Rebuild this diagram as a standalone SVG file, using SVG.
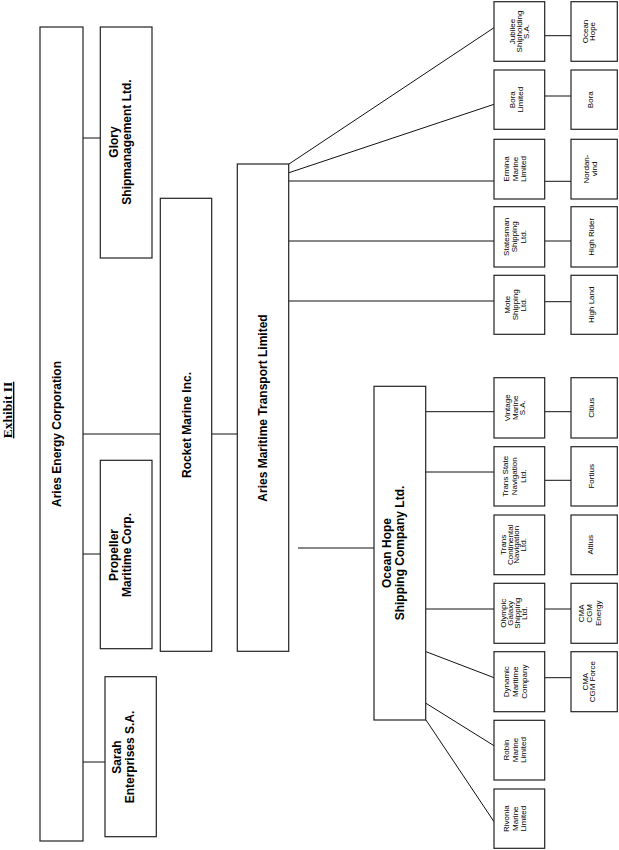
<svg xmlns="http://www.w3.org/2000/svg" width="619" height="850" viewBox="0 0 619 850">
<style>
.bx{fill:#fff;stroke:#222;stroke-width:1.2}
.ln{stroke:#111;stroke-width:1;fill:none}
.big{font-family:"Liberation Sans",Arial,sans-serif;font-weight:bold;font-size:12px;text-anchor:middle;fill:#000}
.sm{font-family:"Liberation Sans",Arial,sans-serif;font-size:8px;text-anchor:middle;fill:#000}
.ttl{font-family:"Liberation Serif","Times New Roman",serif;font-weight:bold;font-size:13.5px;text-anchor:middle;text-decoration:underline;fill:#000}
</style>
<rect width="619" height="850" fill="#fff"/>
<text class="ttl" transform="translate(7.5,410) rotate(-90)" y="4.5">Exhibit II</text>

<g id="connectors">
<path class="ln" d="M83,138H100 M83,434H160 M83,554H100 M83,762H105 M212,434H237"/>
<path class="ln" d="M289,164L494,27.7 M289,172.7L494,104.3 M289,181H494 M289,241H494 M289,301H494"/>
<path class="ln" d="M298,548H374"/>
<path class="ln" d="M426,411.7H494 M426,472H494 M426,609H494 M426,651.7L494,677.7 M426,703.3L494,745.7 M426,720L494,821.7"/>
<path class="ln" d="M545,35.7H571 M545,96H571 M545,181.3H571 M545,241H571 M545,301.7H571 M545,411.7H571 M545,480.3H571 M545,609H571 M545,677.7H571"/>
</g>

<g id="aries-energy"><rect class="bx" x="40" y="27" width="43" height="814"/>
<text class="big" transform="translate(57,434) rotate(-90)" y="4.2">Aries Energy Corporation</text></g>
<g id="glory"><rect class="bx" x="100.3" y="27" width="51.7" height="231"/>
<text class="big" transform="translate(124,142) rotate(-90)"><tspan x="0" y="-6.3">Glory</tspan><tspan x="0" y="6.7">Shipmanagement Ltd.</tspan></text></g>
<g id="propeller"><rect class="bx" x="100.3" y="460.3" width="51.7" height="188.4"/>
<text class="big" transform="translate(124,555) rotate(-90)"><tspan x="0" y="-6.3">Propeller</tspan><tspan x="0" y="6.7">Maritime Corp.</tspan></text></g>
<g id="sarah"><rect class="bx" x="105" y="676.7" width="51.3" height="160"/>
<text class="big" transform="translate(127,757) rotate(-90)"><tspan x="0" y="-6.3">Sarah</tspan><tspan x="0" y="6.7">Enterprises S.A.</tspan></text></g>
<g id="rocket"><rect class="bx" x="160.3" y="198.3" width="51.4" height="453"/>
<text class="big" transform="translate(186.5,425) rotate(-90)" y="4.2">Rocket Marine Inc.</text></g>
<g id="aries-maritime"><rect class="bx" x="237.3" y="164" width="51.4" height="487.3"/>
<text class="big" transform="translate(263,408) rotate(-90)" y="4.2">Aries Maritime Transport Limited</text></g>
<g id="ocean-hope-shipping"><rect class="bx" x="374" y="386.3" width="51.7" height="333.7"/>
<text class="big" transform="translate(397.5,553) rotate(-90)"><tspan x="0" y="-6.3">Ocean Hope</tspan><tspan x="0" y="6.7">Shipping Company Ltd.</tspan></text></g>

<g id="jubilee"><rect class="bx" x="494" y="1.7" width="50.7" height="59.6"/>
<text class="sm" transform="translate(519,31.5) rotate(-90)"><tspan x="0" y="-4.1">Jubilee</tspan><tspan x="0" y="2.9">Shipholding</tspan><tspan x="0" y="9.9">S.A.</tspan></text></g>
<g id="bora-limited"><rect class="bx" x="494" y="70" width="50.7" height="59.3"/>
<text class="sm" transform="translate(516,99.7) rotate(-90)"><tspan x="0" y="-1.1">Bora</tspan><tspan x="0" y="6.9">Limited</tspan></text></g>
<g id="ermina"><rect class="bx" x="494" y="139.3" width="50.7" height="59.7"/>
<text class="sm" transform="translate(515,169) rotate(-90)"><tspan x="0" y="-5.6">Ermina</tspan><tspan x="0" y="2.9">Marine</tspan><tspan x="0" y="11.4">Limited</tspan></text></g>
<g id="statesman"><rect class="bx" x="494" y="206.7" width="50.7" height="60.3"/>
<text class="sm" transform="translate(514.5,236.8) rotate(-90)"><tspan x="0" y="-5.8">Statesman</tspan><tspan x="0" y="2.9">Shipping</tspan><tspan x="0" y="11.6">Ltd.</tspan></text></g>
<g id="mote"><rect class="bx" x="494" y="275.3" width="50.7" height="59"/>
<text class="sm" transform="translate(515,304.8) rotate(-90)"><tspan x="0" y="-5.1">Mote</tspan><tspan x="0" y="2.9">Shipping</tspan><tspan x="0" y="10.9">Ltd.</tspan></text></g>
<g id="vintage"><rect class="bx" x="494" y="377.7" width="50.7" height="60.3"/>
<text class="sm" transform="translate(515,407.8) rotate(-90)"><tspan x="0" y="-4.6">Vintage</tspan><tspan x="0" y="2.9">Marine</tspan><tspan x="0" y="10.4">S.A.</tspan></text></g>
<g id="trans-state"><rect class="bx" x="494" y="446.7" width="50.7" height="59.3"/>
<text class="sm" transform="translate(514.5,476.3) rotate(-90)"><tspan x="0" y="-6.1">Trans State</tspan><tspan x="0" y="2.9">Navigation</tspan><tspan x="0" y="11.9">Ltd.</tspan></text></g>
<g id="trans-continental"><rect class="bx" x="494" y="515" width="50.7" height="59.7"/>
<text class="sm" transform="translate(513,544.8) rotate(-90)"><tspan x="0" y="-7.3">Trans</tspan><tspan x="0" y="-0.5">Continental</tspan><tspan x="0" y="6.3">Navigation</tspan><tspan x="0" y="13.1">Ltd.</tspan></text></g>
<g id="olympic"><rect class="bx" x="494" y="583.3" width="50.7" height="60"/>
<text class="sm" transform="translate(513.5,613.3) rotate(-90)"><tspan x="0" y="-7.6">Olympic</tspan><tspan x="0" y="-0.6">Galaxy</tspan><tspan x="0" y="6.4">Shipping</tspan><tspan x="0" y="13.4">Ltd.</tspan></text></g>
<g id="dynamic"><rect class="bx" x="494" y="651.7" width="50.7" height="60"/>
<text class="sm" transform="translate(515,681.7) rotate(-90)"><tspan x="0" y="-6.1">Dynamic</tspan><tspan x="0" y="2.9">Maritime</tspan><tspan x="0" y="11.9">Company</tspan></text></g>
<g id="robin"><rect class="bx" x="494" y="720.3" width="50.7" height="59.7"/>
<text class="sm" transform="translate(515,750) rotate(-90)"><tspan x="0" y="-5.6">Robin</tspan><tspan x="0" y="2.9">Marine</tspan><tspan x="0" y="11.4">Limited</tspan></text></g>
<g id="rivonia"><rect class="bx" x="494" y="789" width="50.7" height="59.3"/>
<text class="sm" transform="translate(515,818.7) rotate(-90)"><tspan x="0" y="-5.6">Rivonia</tspan><tspan x="0" y="2.9">Marine</tspan><tspan x="0" y="11.4">Limited</tspan></text></g>

<g id="v-ocean-hope"><rect class="bx" x="571" y="1.7" width="46.3" height="59.6"/>
<text class="sm" transform="translate(589,31.5) rotate(-90)"><tspan x="0" y="-0.6">Ocean</tspan><tspan x="0" y="6.4">Hope</tspan></text></g>
<g id="v-bora"><rect class="bx" x="571" y="70" width="46.3" height="59.3"/>
<text class="sm" transform="translate(590,99.7) rotate(-90)" y="2.9">Bora</text></g>
<g id="v-nordanvind"><rect class="bx" x="571" y="139.3" width="46.3" height="59.7"/>
<text class="sm" transform="translate(590,169) rotate(-90)"><tspan x="0" y="-0.9">Nordan-</tspan><tspan x="0" y="6.6">vind</tspan></text></g>
<g id="v-high-rider"><rect class="bx" x="571" y="206.7" width="46.3" height="60.3"/>
<text class="sm" transform="translate(591.5,236.8) rotate(-90)" y="2.9">High Rider</text></g>
<g id="v-high-land"><rect class="bx" x="571" y="275.3" width="46.3" height="59"/>
<text class="sm" transform="translate(591,304.8) rotate(-90)" y="2.9">High Land</text></g>
<g id="v-citius"><rect class="bx" x="571" y="377.7" width="46.3" height="60.3"/>
<text class="sm" transform="translate(591,407.8) rotate(-90)" y="2.9">Citius</text></g>
<g id="v-fortius"><rect class="bx" x="571" y="446.7" width="46.3" height="59.3"/>
<text class="sm" transform="translate(591,476.3) rotate(-90)" y="2.9">Fortius</text></g>
<g id="v-altius"><rect class="bx" x="571" y="515" width="46.3" height="59.7"/>
<text class="sm" transform="translate(590,544.8) rotate(-90)" y="2.9">Altius</text></g>
<g id="v-cma-energy"><rect class="bx" x="571" y="583.3" width="46.3" height="60"/>
<text class="sm" transform="translate(589.5,613.3) rotate(-90)"><tspan x="0" y="-5.6">CMA</tspan><tspan x="0" y="2.9">CGM</tspan><tspan x="0" y="11.4">Energy</tspan></text></g>
<g id="v-cma-force"><rect class="bx" x="571" y="651.7" width="46.3" height="60"/>
<text class="sm" transform="translate(589,681.7) rotate(-90)"><tspan x="0" y="-0.6">CMA</tspan><tspan x="0" y="6.4">CGM Force</tspan></text></g>
</svg>
